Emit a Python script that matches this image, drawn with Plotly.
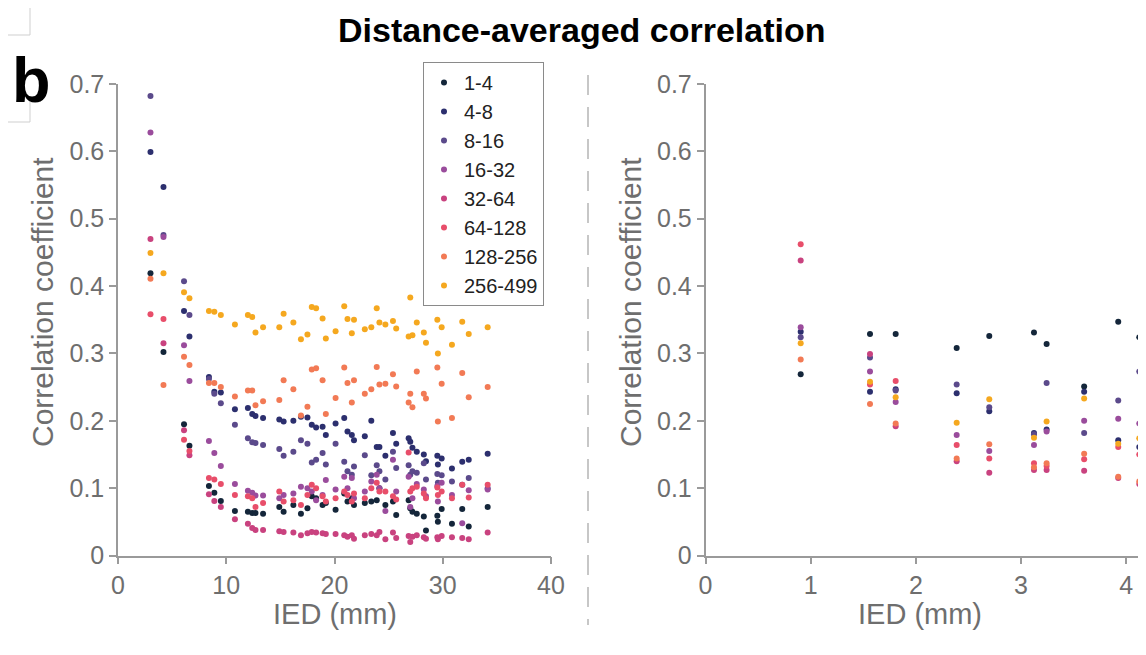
import plotly.graph_objects as go

W, H = 1146, 655
OFF = 8  # the page places the figure 8 px in from the top-left corner

series_names = ["1-4", "4-8", "8-16", "16-32", "32-64", "64-128", "128-256", "256-499"]
series_colors = ["#14263a", "#2c2f6e", "#5b4a8b", "#9a4c9c", "#c9427f", "#e84e6a", "#f27a55", "#f5a81f"]

# ---------------- left panel (IED up to 40 mm) ----------------
left_x = [3.0, 4.2, 6.1, 6.6, 8.4, 8.9, 9.5, 10.8, 12.0, 12.4, 12.7, 13.4, 14.9, 15.3, 16.2, 16.9,
          17.5, 17.9, 18.3, 18.9, 19.2, 20.1, 20.9, 21.2, 21.6, 21.8, 22.8, 23.4, 23.9, 24.15,
          24.7, 25.4, 25.7, 26.85, 27.0, 27.2, 27.6, 28.25, 28.45, 29.5, 29.55, 29.9, 30.85,
          31.8, 32.4, 34.15]

left_1_4 = [0.419, 0.302, 0.195, 0.163, 0.103, 0.093, 0.081, 0.066, 0.065, 0.063, 0.063, 0.062, 0.072,
            0.065, 0.075, 0.062, 0.070, 0.088, 0.085, 0.075, 0.078, 0.068, 0.092, 0.080, 0.085, 0.075,
            0.078, 0.080, 0.082, 0.100, 0.075, 0.080, 0.060, 0.082, 0.070, 0.065, 0.062, 0.058, 0.037,
            0.059, 0.050, 0.069, 0.047, 0.069, 0.043, 0.072]
left_4_8 = [0.599, 0.547, 0.363, 0.325, 0.265, 0.243, 0.242, 0.217, 0.219, 0.210, 0.207, 0.204, 0.202,
            0.199, 0.200, 0.206, 0.205, 0.194, 0.190, 0.191, 0.179, 0.196, 0.204, 0.184, 0.179, 0.171,
            0.177, 0.200, 0.161, 0.161, 0.148, 0.182, 0.166, 0.174, 0.169, 0.160, 0.154, 0.150, 0.140,
            0.148, 0.135, 0.144, 0.129, 0.139, 0.142, 0.151]
left_8_16 = [0.682, 0.476, 0.407, 0.357, 0.262, 0.240, 0.226, 0.194, 0.174, 0.168, 0.167, 0.164, 0.158,
             0.148, 0.154, 0.171, 0.166, 0.138, 0.142, 0.152, 0.135, 0.166, 0.139, 0.125, 0.120, 0.132,
             0.149, 0.119, 0.134, 0.125, 0.113, 0.154, 0.130, 0.134, 0.120, 0.125, 0.123, 0.137, 0.113,
             0.121, 0.108, 0.119, 0.110, 0.105, 0.115, 0.100]
left_16_32 = [0.628, 0.473, 0.312, 0.259, 0.170, 0.152, 0.133, 0.106, 0.096, 0.093, 0.089, 0.089, 0.085,
              0.090, 0.092, 0.102, 0.100, 0.095, 0.082, 0.090, 0.112, 0.098, 0.117, 0.100, 0.115, 0.085,
              0.095, 0.110, 0.120, 0.100, 0.066, 0.142, 0.095, 0.117, 0.072, 0.085, 0.106, 0.098, 0.088,
              0.103, 0.080, 0.108, 0.090, 0.048, 0.097, 0.098]
left_32_64 = [0.470, 0.315, 0.186, 0.149, 0.091, 0.081, 0.072, 0.054, 0.047, 0.041, 0.038, 0.038, 0.036,
              0.035, 0.034, 0.030, 0.033, 0.035, 0.034, 0.033, 0.032, 0.032, 0.030, 0.028, 0.030, 0.025,
              0.030, 0.032, 0.030, 0.035, 0.024, 0.034, 0.026, 0.029, 0.020, 0.028, 0.030, 0.027, 0.025,
              0.027, 0.024, 0.029, 0.027, 0.026, 0.024, 0.034]
left_64_128 = [0.358, 0.351, 0.172, 0.155, 0.115, 0.113, 0.106, 0.090, 0.088, 0.085, 0.072, 0.078, 0.095,
               0.080, 0.082, 0.075, 0.090, 0.105, 0.100, 0.088, 0.080, 0.085, 0.095, 0.090, 0.080, 0.092,
               0.085, 0.100, 0.108, 0.095, 0.095, 0.088, 0.083, 0.153, 0.095, 0.100, 0.102, 0.092, 0.085,
               0.101, 0.090, 0.095, 0.085, 0.105, 0.086, 0.105]
left_128_256 = [0.411, 0.253, 0.295, 0.283, 0.256, 0.256, 0.250, 0.236, 0.245, 0.245, 0.223, 0.229, 0.231,
                0.260, 0.247, 0.208, 0.221, 0.276, 0.278, 0.260, 0.210, 0.234, 0.279, 0.256, 0.227, 0.260,
                0.240, 0.247, 0.280, 0.254, 0.255, 0.269, 0.251, 0.227, 0.240, 0.220, 0.273, 0.240, 0.233,
                0.279, 0.199, 0.255, 0.204, 0.271, 0.235, 0.250]
left_256_499 = [0.449, 0.419, 0.391, 0.382, 0.363, 0.362, 0.357, 0.343, 0.357, 0.354, 0.331, 0.339, 0.339,
                0.359, 0.346, 0.321, 0.328, 0.369, 0.367, 0.352, 0.322, 0.333, 0.370, 0.351, 0.330, 0.350,
                0.336, 0.339, 0.367, 0.346, 0.343, 0.348, 0.337, 0.325, 0.383, 0.327, 0.346, 0.331, 0.316,
                0.350, 0.300, 0.339, 0.313, 0.347, 0.329, 0.339]

# ---------------- right panel (IED up to ~4 mm) ----------------
right_x = [0.905, 1.564, 1.808, 2.388, 2.698, 3.123, 3.243, 3.60, 3.924, 4.124]

right_1_4 = [0.269, 0.329, 0.329, 0.308, 0.326, 0.331, 0.314, 0.251, 0.347, 0.324]
right_4_8 = [0.332, 0.243, 0.247, 0.241, 0.214, 0.182, 0.187, 0.243, 0.171, 0.161]
right_8_16 = [0.324, 0.294, 0.245, 0.254, 0.220, 0.180, 0.256, 0.182, 0.230, 0.273]
right_16_32 = [0.339, 0.273, 0.228, 0.179, 0.155, 0.164, 0.184, 0.200, 0.203, 0.196]
right_32_64 = [0.438, 0.299, 0.192, 0.140, 0.123, 0.127, 0.127, 0.126, 0.115, 0.106]
right_64_128 = [0.462, 0.254, 0.259, 0.164, 0.144, 0.137, 0.133, 0.143, 0.161, 0.150]
right_128_256 = [0.291, 0.225, 0.196, 0.144, 0.165, 0.131, 0.137, 0.151, 0.117, 0.110]
right_256_499 = [0.315, 0.258, 0.235, 0.197, 0.232, 0.175, 0.199, 0.233, 0.166, 0.174]

left_series = [left_1_4, left_4_8, left_8_16, left_16_32, left_32_64, left_64_128, left_128_256, left_256_499]
right_series = [right_1_4, right_4_8, right_8_16, right_16_32, right_32_64, right_64_128, right_128_256, right_256_499]

FONT = "Liberation Sans, Arial, sans-serif"
AXIS_GRAY = "#9a9a9a"
TICK_GRAY = "#6e6e6e"

fig = go.Figure()
for name, color, ys in zip(series_names, series_colors, left_series):
    fig.add_trace(go.Scatter(x=left_x, y=ys, mode="markers", name=name,
                             marker=dict(size=6, color=color), xaxis="x", yaxis="y",
                             showlegend=True, cliponaxis=False))
for name, color, ys in zip(series_names, series_colors, right_series):
    fig.add_trace(go.Scatter(x=right_x, y=ys, mode="markers", name=name,
                             marker=dict(size=6, color=color), xaxis="x2", yaxis="y2",
                             showlegend=False, cliponaxis=False))


def px_x(p):
    """image pixel (from the left) -> paper x"""
    return (p - OFF) / W


def px_y(p):
    """image pixel (from the top) -> paper y"""
    return 1 - (p - OFF) / H


y_dom = [px_y(555.5), px_y(84)]
axis_common = dict(showline=True, linecolor=AXIS_GRAY, linewidth=1.5, ticks="outside", ticklen=7,
                   tickcolor=AXIS_GRAY, tickwidth=1.5, showgrid=False, zeroline=False,
                   tickfont=dict(family=FONT, size=25, color=TICK_GRAY))
y_ticks = [0, 0.1, 0.2, 0.3, 0.4, 0.5, 0.6, 0.7]
y_text = ["0", "0.1", "0.2", "0.3", "0.4", "0.5", "0.6", "0.7"]

fig.update_layout(
    width=W, height=H,
    margin=dict(l=0, r=0, t=0, b=0, pad=0, autoexpand=False),
    paper_bgcolor="white", plot_bgcolor="white",
    xaxis=dict(domain=[px_x(118), px_x(551)], range=[0, 40], tickvals=[0, 10, 20, 30, 40],
               anchor="y", ticklabelstandoff=0, **axis_common),
    yaxis=dict(domain=y_dom, range=[0, 0.7], tickvals=y_ticks, ticktext=y_text, anchor="x",
               ticklabelstandoff=0, **axis_common),
    xaxis2=dict(domain=[px_x(705.5), px_x(1142)], range=[0, 4.15], tickvals=[0, 1, 2, 3, 4],
                anchor="y2", ticklabelstandoff=0, **axis_common),
    yaxis2=dict(domain=y_dom, range=[0, 0.7], tickvals=y_ticks, ticktext=y_text, anchor="x2",
                ticklabelstandoff=0, **axis_common),
    legend=dict(x=px_x(423), y=px_y(62), xanchor="left", yanchor="top",
                bordercolor="#8a8a8a", borderwidth=1, bgcolor="white",
                font=dict(family=FONT, size=20, color="#222222"),
                itemwidth=30, tracegroupgap=0),
    showlegend=True,
)

annotations = [
    dict(text="<b>Distance-averaged correlation</b>", x=px_x(582), y=px_y(30), xref="paper", yref="paper",
         showarrow=False, font=dict(family=FONT, size=34, color="black"), xanchor="center", yanchor="middle"),
    dict(text="<b>b</b>", x=px_x(31), y=px_y(80), xref="paper", yref="paper",
         showarrow=False, font=dict(family=FONT, size=63, color="black"), xanchor="center", yanchor="middle"),
    dict(text="Correlation coefficient", x=px_x(42), y=px_y(302), xref="paper", yref="paper", textangle=-90,
         showarrow=False, font=dict(family=FONT, size=30, color=TICK_GRAY), xanchor="center", yanchor="middle"),
    dict(text="Correlation coefficient", x=px_x(630), y=px_y(302), xref="paper", yref="paper", textangle=-90,
         showarrow=False, font=dict(family=FONT, size=30, color=TICK_GRAY), xanchor="center", yanchor="middle"),
    dict(text="IED (mm)", x=px_x(335), y=px_y(614), xref="paper", yref="paper",
         showarrow=False, font=dict(family=FONT, size=29, color=TICK_GRAY), xanchor="center", yanchor="middle"),
    dict(text="IED (mm)", x=px_x(920), y=px_y(614), xref="paper", yref="paper",
         showarrow=False, font=dict(family=FONT, size=29, color=TICK_GRAY), xanchor="center", yanchor="middle"),
]
fig.update_layout(annotations=annotations)

shapes = [
    dict(type="line", xref="paper", yref="paper", x0=px_x(588), x1=px_x(588), y0=px_y(75), y1=px_y(625),
         line=dict(color="#b5b5b5", width=1.5, dash="20px,12px")),
    dict(type="line", xref="paper", yref="paper", x0=px_x(30), x1=px_x(30), y0=px_y(0), y1=px_y(35),
         line=dict(color="#cfcfcf", width=1)),
    dict(type="line", xref="paper", yref="paper", x0=px_x(0), x1=px_x(30), y0=px_y(35), y1=px_y(35),
         line=dict(color="#cfcfcf", width=1)),
    dict(type="line", xref="paper", yref="paper", x0=px_x(30), x1=px_x(30), y0=px_y(100), y1=px_y(122),
         line=dict(color="#cfcfcf", width=1)),
    dict(type="line", xref="paper", yref="paper", x0=px_x(0), x1=px_x(30), y0=px_y(122), y1=px_y(122),
         line=dict(color="#cfcfcf", width=1)),
]
fig.update_layout(shapes=shapes)

fig.write_html("out.html")
